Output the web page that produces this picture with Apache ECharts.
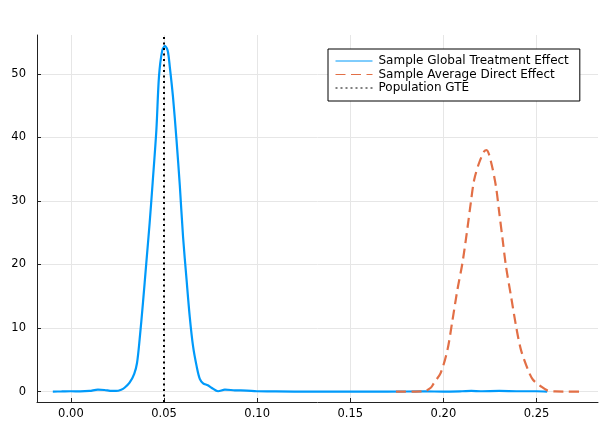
<!DOCTYPE html>
<html>
<head>
<meta charset="utf-8">
<script src="https://cdn.jsdelivr.net/npm/echarts@6/dist/echarts.min.js"></script>
<style>html,body{margin:0;padding:0;background:#fff;}#c{width:599px;height:423px;}</style>
</head>
<body>
<div id="c"></div>
<script>
// Sample Global Treatment Effect (density)
const gteX = [-0.0097,-0.005,0.0,0.005,0.01,0.0145,0.018,0.022,0.0243,0.027,0.0288,0.0315,0.034,0.0355,0.0369,0.0387,0.0405,0.0423,0.0439,0.0459,0.0473,0.049,0.0505,0.052,0.0531,0.0548,0.0567,0.0585,0.0602,0.0621,0.0638,0.0656,0.0675,0.0692,0.071,0.0735,0.0755,0.079,0.0827,0.088,0.0944,0.0998,0.11,0.13,0.15,0.17,0.19,0.2,0.21,0.215,0.22,0.23,0.24,0.25,0.2557];
const gteY = [0.0,0.02,0.05,0.03,0.1,0.3,0.25,0.1,0.1,0.3,0.6,1.4,2.8,4.5,8.2,14,20.3,26.6,32.9,41.2,49.6,53.6,54.4,53.6,51.1,46.4,39.6,32.3,24.4,17.6,11.8,7.1,4.0,2.0,1.3,1.0,0.6,0.05,0.3,0.2,0.15,0.05,0.02,0.0,0.0,0.0,0.02,0.0,0.05,0.1,0.05,0.1,0.05,0.05,0.0];
// Sample Average Direct Effect (density)
const adeX = [0.1745,0.185,0.1896,0.1932,0.195,0.1985,0.2022,0.2048,0.2075,0.2102,0.2129,0.2147,0.2165,0.2192,0.2219,0.2232,0.2255,0.2282,0.230,0.2318,0.2336,0.2363,0.239,0.2416,0.2453,0.248,0.2524,0.256,0.26,0.265,0.2745];
const adeY = [0,0,0.05,0.6,1.4,2.9,6.6,11.1,16.0,20.2,25.7,29.7,33.3,36.0,37.8,38.0,36.2,32.3,28.1,23.9,19.7,15.0,10.3,6.6,3.5,1.9,0.8,0.15,0.02,0,0];
// Population GTE
const populationGTE = 0.0513;
const xTicks = [0, 0.05, 0.10, 0.15, 0.20, 0.25];
const yTicks = [0, 10, 20, 30, 40, 50];
const seriesNames = ['Sample Global Treatment Effect', 'Sample Average Direct Effect', 'Population GTE'];

const toPairs = (xs, ys) => xs.map((x, i) => [x, ys[i]]);
const font = 'DejaVu Sans';
const chart = echarts.init(document.getElementById('c'), null, {renderer: 'canvas'});
chart.setOption({
  animation: false,
  backgroundColor: '#fff',
  grid: {left: 37, right: 1, top: 35, bottom: 21, containLabel: false},
  xAxis: {
    type: 'value', min: -0.0182, max: 0.283,
    axisLine: {show: true, onZero: false, lineStyle: {color: '#222', width: 1}},
    axisTick: {show: true, inside: true, length: 4, customValues: xTicks, lineStyle: {color: '#222'}},
    axisLabel: {customValues: xTicks, color: '#000', fontFamily: font, fontSize: 11.5, margin: 6,
      formatter: v => v.toFixed(2)},
    splitLine: {show: true, lineStyle: {color: '#e6e6e6', width: 1}}
  },
  yAxis: {
    type: 'value', min: -1.64, max: 56.1,
    axisLine: {show: true, onZero: false, lineStyle: {color: '#222', width: 1}},
    axisTick: {show: true, inside: true, length: 4, customValues: yTicks, lineStyle: {color: '#222'}},
    axisLabel: {customValues: yTicks, color: '#000', fontFamily: font, fontSize: 11.5, margin: 11,
      formatter: v => String(Math.round(v))},
    splitLine: {show: true, lineStyle: {color: '#e6e6e6', width: 1}}
  },
  legend: {
    orient: 'vertical', left: 328, top: 49,
    data: seriesNames,
    itemWidth: 37, itemHeight: 12, itemGap: 1.5,
    padding: [6, 11, 7, 7],
    backgroundColor: '#fff', borderColor: '#000', borderWidth: 1, borderRadius: 0,
    textStyle: {fontFamily: font, fontSize: 12, color: '#000', padding: [0,0,0,1]},
    itemStyle: {opacity: 0},
    lineStyle: {width: 1},
    selectedMode: false
  },
  series: [
    {name: seriesNames[0], type: 'line', data: toPairs(gteX, gteY), symbol: 'none', smooth: 0.3,
      color: '#009AFA', lineStyle: {color: '#009AFA', width: 2.2}, z: 2},
    {name: seriesNames[1], type: 'line', data: toPairs(adeX, adeY), symbol: 'none', smooth: 0.3,
      color: '#E26F46', lineStyle: {color: '#E26F46', width: 2.2, type: [10, 5.5]}, z: 3},
    {name: seriesNames[2], type: 'line', data: [], symbol: 'none', color: '#000',
      lineStyle: {color: '#000', width: 2, type: [2, 3]}, z: 4,
      markLine: {silent: true, symbol: 'none', label: {show: false},
        lineStyle: {color: '#000', width: 2, type: [2, 3.5]},
        data: [{xAxis: populationGTE}]}}
  ]
});
</script>
</body>
</html>
